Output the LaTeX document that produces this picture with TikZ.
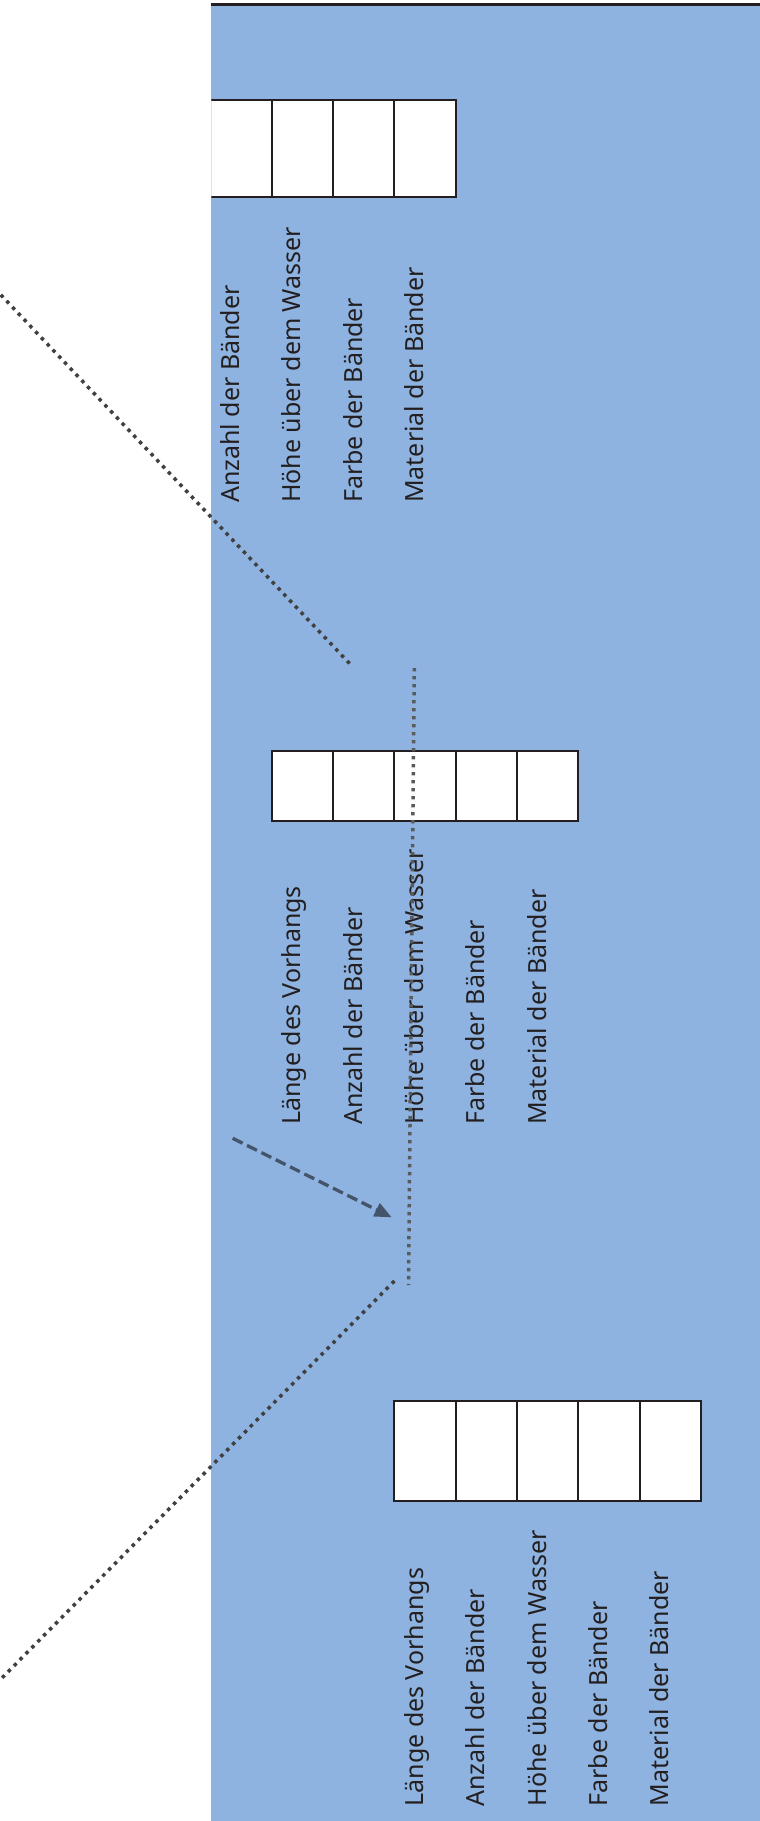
\documentclass[tikz,border=0pt]{standalone}
\usepackage{fontspec}
\setmainfont{Noto Sans}
\usetikzlibrary{arrows.meta}
\definecolor{paneblue}{RGB}{142,179,224}
\definecolor{inkline}{RGB}{35,31,32}
\definecolor{slateblue}{RGB}{68,84,106}
\definecolor{dotgrey}{RGB}{64,64,64}
\definecolor{lightdot}{RGB}{90,90,90}
\tikzstyle{cellstyle}=[draw=inkline,fill=white,line width=2pt,minimum width=61.3pt,inner sep=0pt]
\tikzstyle{labelstyle}=[rotate=90,anchor=base west,inner sep=0pt,text=inkline,font=\fontsize{25}{30}\selectfont]
\tikzstyle{dotline}=[dotgrey,line width=3.5pt,dash pattern=on 3.5pt off 4.9pt]
\tikzstyle{fineline}=[lightdot,line width=3.5pt,dash pattern=on 3.4pt off 4.6pt]
\tikzstyle{arrowline}=[slateblue,line width=3.3pt,dash pattern=on 11pt off 5pt,-{Triangle[length=17pt,width=14pt]}]

\begin{document}
\begin{tikzpicture}[x=1pt,y=-1pt]

      % keep the page at the size of the picture
      \useasboundingbox (0,0) rectangle (760,1821);

      % make these defs here so that I can change all after
      \def\xzero{210.4} % left edge of the first column of cells
      \def\cellw{61.3} % width of one cell
      \def\shift{1.5} % distance from cell centre to label baseline

      % blue pane with the black rule on top
      \fill[paneblue] (211,4.5) rectangle (760,1821);
      \draw[inkline,line width=2.6pt] (211,4.5) -- (760,4.5);

      % define first table (cut off at the pane edge)
      \begin{scope}
        \clip (211.4,0) rectangle (760,1821);
        \foreach \i in {1,...,4}
          \node[cellstyle,minimum height=97pt] at ({\xzero+(\i-0.5)*\cellw},148.2) (o\i) {};
      \end{scope}
      % define second table
      \foreach \i in {2,...,6}
        \node[cellstyle,minimum height=70pt] at ({\xzero+(\i-0.5)*\cellw},785.7) (m\i) {};
      % define third table
      \foreach \i in {4,...,8}
        \node[cellstyle,minimum height=100pt] at ({\xzero+(\i-0.5)*\cellw},1450.7) (u\i) {};

      % Insert labels
      \foreach \t [count=\i] in {Anzahl der Bänder,Höhe über dem Wasser,Farbe der Bänder,Material der Bänder}
        \node[labelstyle] at ({\xzero+(\i-0.5)*\cellw-\shift},503) (lo\i) {\t};
      \foreach \t [count=\i from 2] in {Länge des Vorhangs,Anzahl der Bänder,Höhe über dem Wasser,Farbe der Bänder,Material der Bänder}
        \node[labelstyle] at ({\xzero+(\i-0.5)*\cellw-\shift},1125) (lm\i) {\t};
      \foreach \t [count=\i from 4] in {Länge des Vorhangs,Anzahl der Bänder,Höhe über dem Wasser,Farbe der Bänder,Material der Bänder}
        \node[labelstyle] at ({\xzero+(\i-0.5)*\cellw-\shift},1806.7) (lu\i) {\t};

      % end points of the lines
      \coordinate (topfar) at (-5,288.7);
      \coordinate (topnear) at (350,664);
      \coordinate (markup) at (414.3,668);
      \coordinate (markdown) at (408.5,1285);
      \coordinate (lownear) at (394.3,1281);
      \coordinate (lowfar) at (-5,1685);
      \coordinate (hint) at (232.7,1138.3);
      \coordinate (hinttip) at (391.7,1217.3);

      % Draw all lines
      \draw[dotline] (topfar) -- (topnear);
      \draw[fineline] (markup) -- (markdown);
      \draw[dotline] (lownear) -- (lowfar);
      \draw[arrowline] (hint) -- (hinttip);

\end{tikzpicture}
\end{document}
